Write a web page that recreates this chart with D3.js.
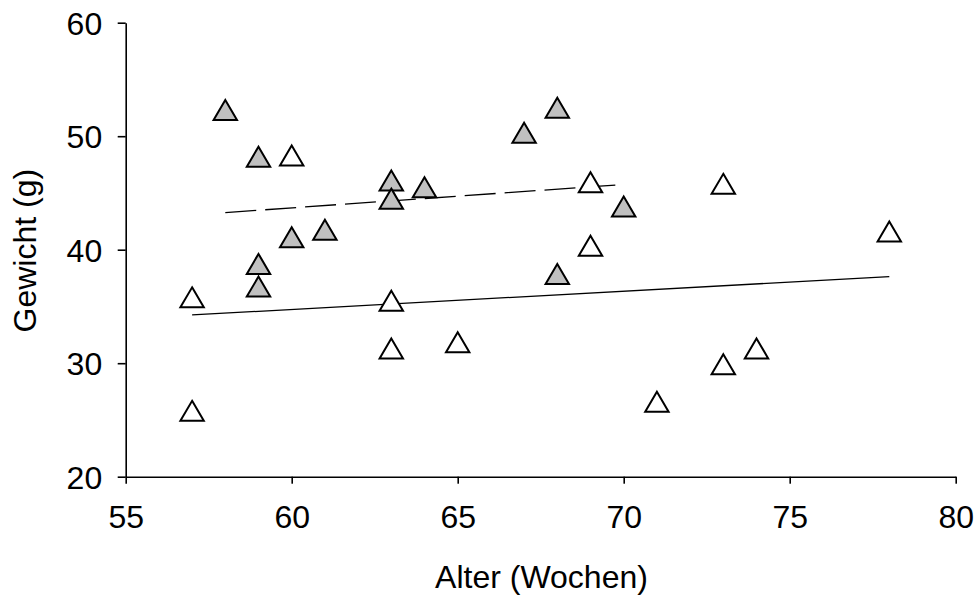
<!DOCTYPE html>
<html>
<head>
<meta charset="utf-8">
<script src="https://cdn.jsdelivr.net/npm/d3@7"></script>
<style>
  body { margin: 0; background: #fff; }
  text { font-family: "Liberation Sans", Arial, sans-serif; }
</style>
</head>
<body>
<svg id="chart" width="977" height="595"></svg>
<script>
// ---- Data ----
const xTicks = [55, 60, 65, 70, 75, 80];
const yTicks = [20, 30, 40, 50, 60];
const xTitle = "Alter (Wochen)";
const yTitle = "Gewicht (g)";

const greyAge    = [58, 59, 63, 63, 64, 60, 61, 59, 59, 68, 67, 70, 68];
const greyWeight = [52.3, 48.2, 46.1, 44.5, 45.5, 41.1, 41.75, 38.75, 36.75, 52.5, 50.3, 43.8, 37.85];

const whiteAge    = [60, 57, 57, 63, 63, 65, 69, 69, 73, 73, 71, 74, 78];
const whiteWeight = [48.3, 35.8, 25.8, 35.5, 31.3, 31.85, 45.95, 40.35, 45.8, 29.9, 26.6, 31.3, 41.6];

// trend line end points (age, weight)
const greyTrendAge = [58, 70];
const greyTrendWeight = [43.27, 45.75];
const whiteTrendAge = [57, 78];
const whiteTrendWeight = [34.25, 37.63];

// ---- Chart ----
const svg = d3.select("#chart");
const x = d3.scaleLinear().domain([55, 80]).range([125.7, 955.7]);
const y = d3.scaleLinear().domain([20, 60]).range([476.7, 22.7]);

const fontSize = 32;

// Y axis
const yAxis = svg.append("g")
  .attr("transform", `translate(${x(55)},0)`)
  .call(d3.axisLeft(y).tickValues(yTicks).tickSize(8).tickSizeOuter(0).tickPadding(15.5).tickFormat(d3.format("d")));
yAxis.select(".domain").attr("stroke", "#000").attr("stroke-width", 1.6);
yAxis.selectAll(".tick line").attr("stroke", "#000").attr("stroke-width", 1.6);
yAxis.selectAll(".tick text").attr("font-size", fontSize).attr("fill", "#000")
  .attr("font-family", "Liberation Sans, Arial, sans-serif").attr("dy", "0.36em");

// X axis
const xAxis = svg.append("g")
  .attr("transform", `translate(0,${y(20)})`)
  .call(d3.axisBottom(x).tickValues(xTicks).tickSize(7).tickSizeOuter(0).tickFormat(d3.format("d")));
xAxis.select(".domain").attr("stroke", "#000").attr("stroke-width", 1.6);
xAxis.selectAll(".tick line").attr("stroke", "#000").attr("stroke-width", 1.6);
xAxis.selectAll(".tick text").attr("font-size", fontSize).attr("fill", "#000")
  .attr("font-family", "Liberation Sans, Arial, sans-serif").attr("y", 51.6).attr("dy", 0);

// Titles
svg.append("text")
  .attr("x", 541.5).attr("y", 588.3)
  .attr("text-anchor", "middle").attr("font-size", fontSize).attr("fill", "#000")
  .text(xTitle);
svg.append("text")
  .attr("transform", `translate(36.2,250.7) rotate(-90)`)
  .attr("text-anchor", "middle").attr("font-size", fontSize).attr("fill", "#000")
  .text(yTitle);

// Trend lines
const line = d3.line().x(d => x(d[0])).y(d => y(d[1]));
svg.append("path")
  .datum(d3.zip(whiteTrendAge, whiteTrendWeight))
  .attr("d", line).attr("fill", "none").attr("stroke", "#000").attr("stroke-width", 1.3);
svg.append("path")
  .datum(d3.zip(greyTrendAge, greyTrendWeight))
  .attr("d", line).attr("fill", "none").attr("stroke", "#000").attr("stroke-width", 1.3)
  .attr("stroke-dasharray", "31,9");

// Triangle markers
const tri = "M0,-10L11.7,10L-11.7,10Z";
function drawMarkers(ages, weights, fill) {
  svg.append("g").selectAll("path")
    .data(d3.zip(ages, weights))
    .join("path")
    .attr("d", tri)
    .attr("transform", d => `translate(${x(d[0])},${y(d[1])})`)
    .attr("fill", fill)
    .attr("stroke", "#000")
    .attr("stroke-width", 2)
    .attr("stroke-linejoin", "miter");
}
drawMarkers(whiteAge, whiteWeight, "#ffffff");
drawMarkers(greyAge, greyWeight, "#c0c0c0");
</script>
</body>
</html>
